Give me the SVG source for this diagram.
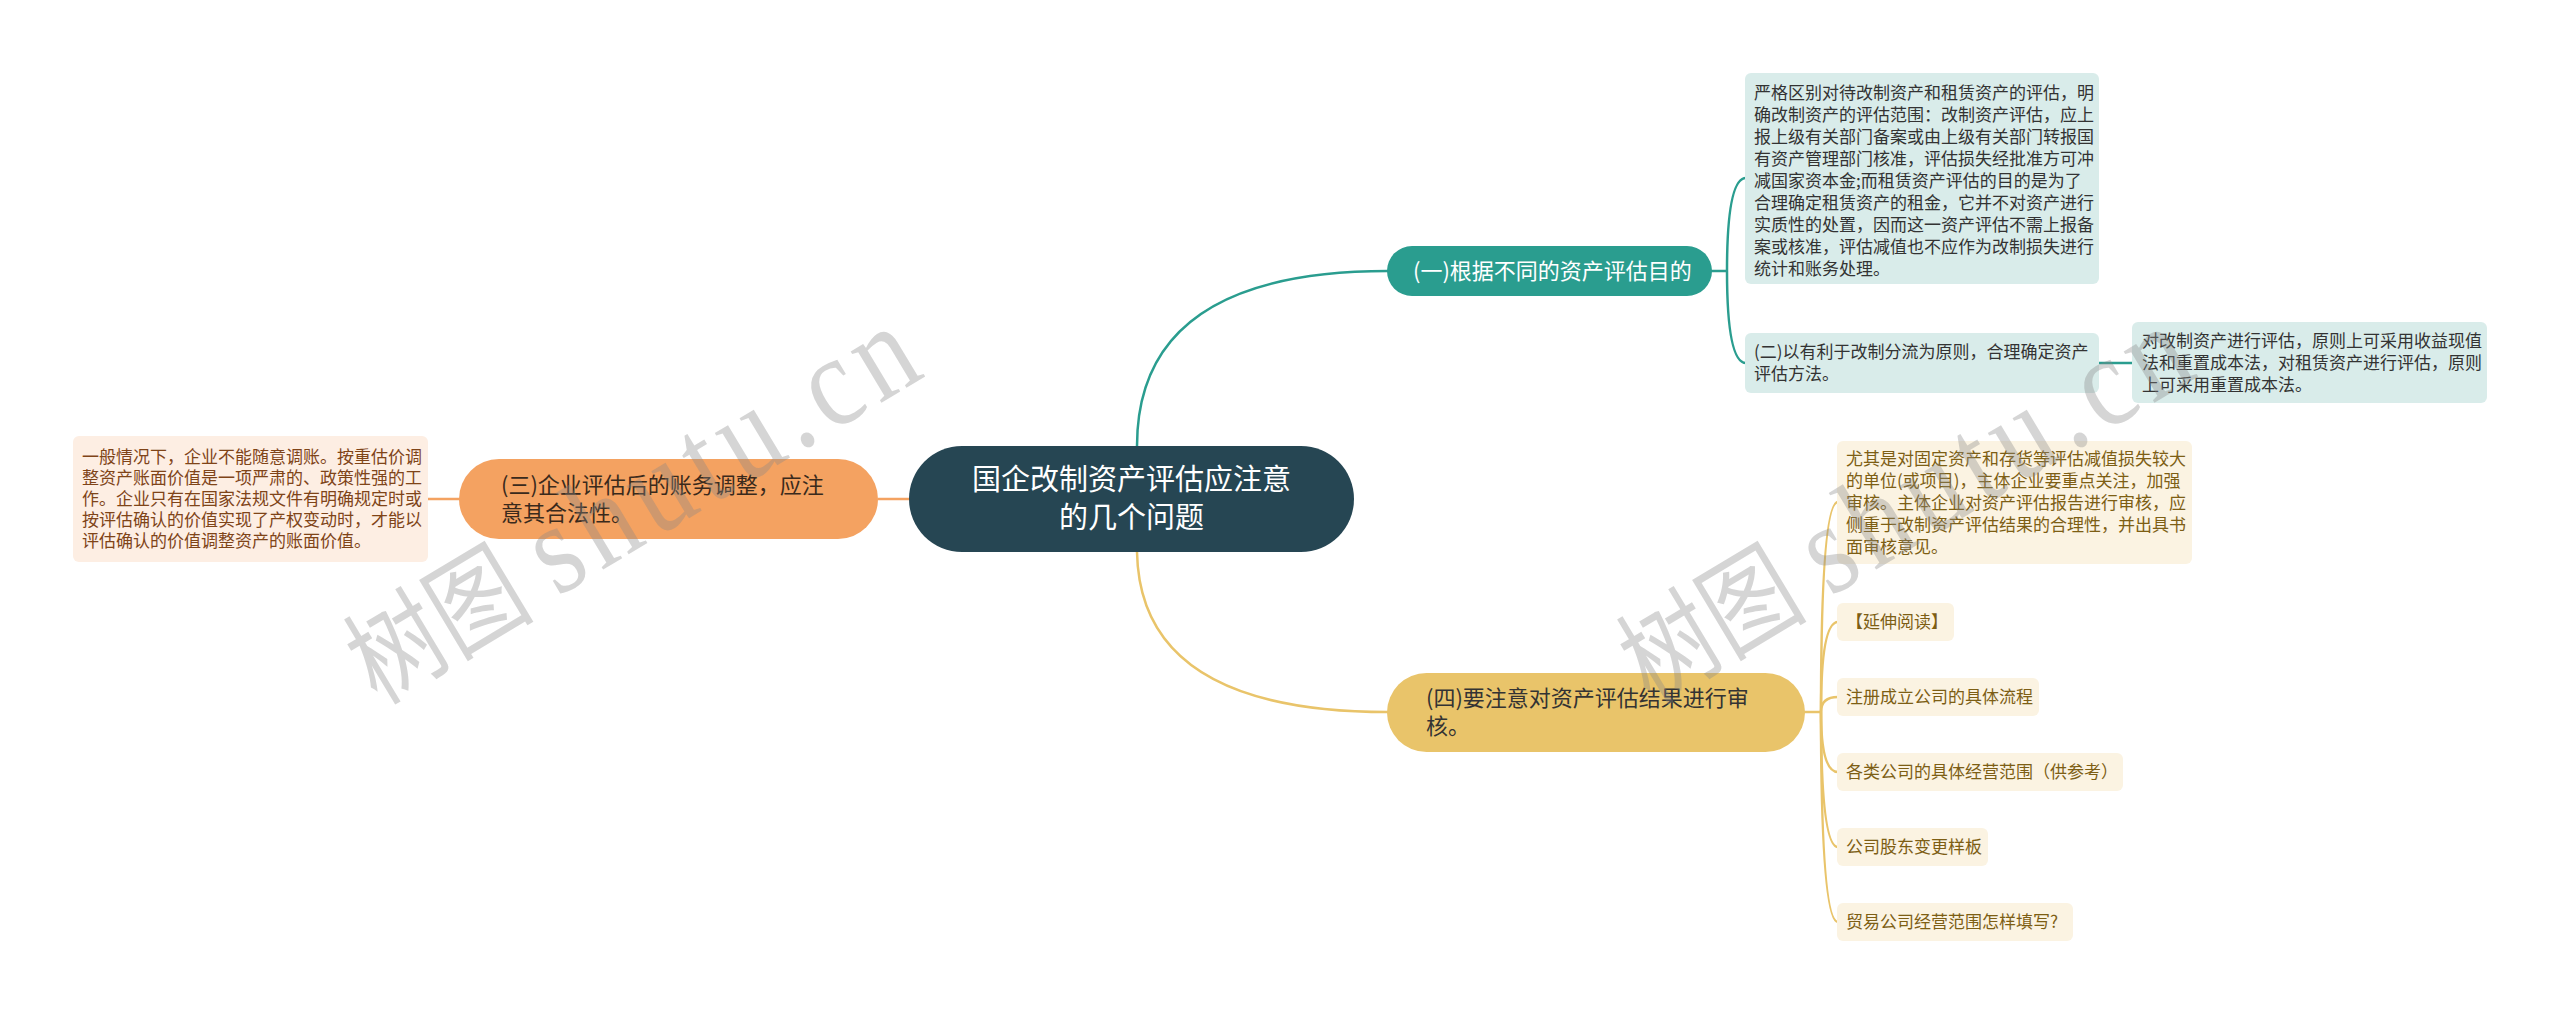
<svg xmlns="http://www.w3.org/2000/svg" width="2560" height="1014" viewBox="0 0 2560 1014">
<style>
  text { font-family: "Noto Sans CJK SC", "Noto Sans", sans-serif; }
  .root-t { font-size: 29px; fill: #ffffff; text-anchor: middle; }
  .main-t { font-size: 22px; }
  .sub-t { font-size: 17px; }
  .c-teal { fill: none; stroke: #2a9d8f; stroke-width: 2.5; }
  .c-orange { fill: none; stroke: #f4a261; stroke-width: 2.5; }
  .c-gold { fill: none; stroke: #e9c46a; stroke-width: 2.5; }
  .teal-box { fill: #d9ecea; }
  .teal-txt { fill: #333333; }
  .peach-box { fill: #fdeee3; }
  .peach-txt { fill: #7f4418; }
  .gold-box { fill: #fbf3e2; }
  .gold-txt { fill: #7d5e14; }
  .wm { font-family: "Liberation Serif", "Noto Sans CJK SC", serif; font-size: 108px; fill: #888888; fill-opacity: 0.35; }
  .wm-lat { font-size: 130px; }
</style>
<rect x="0" y="0" width="2560" height="1014" fill="#ffffff"/>

<g id="connectors">
  <path class="c-teal" d="M1137,446 Q1137,271 1388,271"/>
  <path class="c-gold" d="M1137,552 Q1140,712 1388,712"/>
  <path class="c-orange" d="M878,499 H910"/>
  <path class="c-orange" d="M427,499 H460"/>
  <path class="c-teal" d="M1711,271 H1727"/>
  <path class="c-teal" d="M1727,271 Q1727,178 1746,178"/>
  <path class="c-teal" d="M1727,271 Q1727,363 1746,363"/>
  <path class="c-teal" d="M2098,363 H2133"/>
  <path class="c-gold" d="M1804,712 H1821"/>
  <path class="c-gold" d="M1821,712 Q1821,502 1838,502"/>
  <path class="c-gold" d="M1821,712 Q1821,622 1838,622"/>
  <path class="c-gold" d="M1821,712 Q1821,697 1838,697"/>
  <path class="c-gold" d="M1821,712 Q1821,772 1838,772"/>
  <path class="c-gold" d="M1821,712 Q1821,847 1838,847"/>
  <path class="c-gold" d="M1821,712 Q1821,922 1838,922"/>
</g>

<g id="root">
  <rect x="909" y="446" width="445" height="106" rx="53" fill="#264653"/>
  <text class="root-t" x="1131.5" y="490">国企改制资产评估应注意</text>
  <text class="root-t" x="1131.5" y="528">的几个问题</text>
</g>

<g id="n1">
  <rect x="1387" y="246" width="325" height="50" rx="25" fill="#2a9d8f"/>
  <text class="main-t" x="1413" y="279" fill="#ffffff">(一)根据不同的资产评估目的</text>
</g>

<g id="n1-a">
  <rect class="teal-box" x="1745" y="73" width="354" height="211" rx="6"/>
  <text class="sub-t teal-txt" x="1754">
    <tspan x="1754" y="99">严格区别对待改制资产和租赁资产的评估，明</tspan>
    <tspan x="1754" y="121">确改制资产的评估范围：改制资产评估，应上</tspan>
    <tspan x="1754" y="143">报上级有关部门备案或由上级有关部门转报国</tspan>
    <tspan x="1754" y="165">有资产管理部门核准，评估损失经批准方可冲</tspan>
    <tspan x="1754" y="187">减国家资本金;而租赁资产评估的目的是为了</tspan>
    <tspan x="1754" y="209">合理确定租赁资产的租金，它并不对资产进行</tspan>
    <tspan x="1754" y="231">实质性的处置，因而这一资产评估不需上报备</tspan>
    <tspan x="1754" y="253">案或核准，评估减值也不应作为改制损失进行</tspan>
    <tspan x="1754" y="275">统计和账务处理。</tspan>
  </text>
</g>

<g id="n1-b">
  <rect class="teal-box" x="1745" y="333" width="354" height="60" rx="6"/>
  <text class="sub-t teal-txt">
    <tspan x="1754" y="358">(二)以有利于改制分流为原则，合理确定资产</tspan>
    <tspan x="1754" y="380">评估方法。</tspan>
  </text>
</g>

<g id="n1-b-1">
  <rect class="teal-box" x="2132" y="322" width="355" height="81" rx="6"/>
  <text class="sub-t teal-txt">
    <tspan x="2142" y="347">对改制资产进行评估，原则上可采用收益现值</tspan>
    <tspan x="2142" y="369">法和重置成本法，对租赁资产进行评估，原则</tspan>
    <tspan x="2142" y="391">上可采用重置成本法。</tspan>
  </text>
</g>

<g id="n3">
  <rect x="459" y="459" width="419" height="80" rx="40" fill="#f4a261"/>
  <text class="main-t" fill="#3a2a1c">
    <tspan x="501" y="493">(三)企业评估后的账务调整，应注</tspan>
    <tspan x="501" y="521">意其合法性。</tspan>
  </text>
</g>

<g id="n3-a">
  <rect class="peach-box" x="73" y="436" width="355" height="126" rx="6"/>
  <text class="sub-t peach-txt">
    <tspan x="82" y="463">一般情况下，企业不能随意调账。按重估价调</tspan>
    <tspan x="82" y="484">整资产账面价值是一项严肃的、政策性强的工</tspan>
    <tspan x="82" y="505">作。企业只有在国家法规文件有明确规定时或</tspan>
    <tspan x="82" y="526">按评估确认的价值实现了产权变动时，才能以</tspan>
    <tspan x="82" y="547">评估确认的价值调整资产的账面价值。</tspan>
  </text>
</g>

<g id="n4">
  <rect x="1387" y="673" width="418" height="79" rx="39.5" fill="#e9c46a"/>
  <text class="main-t" fill="#333333">
    <tspan x="1426" y="706">(四)要注意对资产评估结果进行审</tspan>
    <tspan x="1426" y="734">核。</tspan>
  </text>
</g>

<g id="n4-a">
  <rect class="gold-box" x="1837" y="441" width="355" height="123" rx="6"/>
  <text class="sub-t gold-txt">
    <tspan x="1846" y="465">尤其是对固定资产和存货等评估减值损失较大</tspan>
    <tspan x="1846" y="487">的单位(或项目)，主体企业要重点关注，加强</tspan>
    <tspan x="1846" y="509">审核。主体企业对资产评估报告进行审核，应</tspan>
    <tspan x="1846" y="531">侧重于改制资产评估结果的合理性，并出具书</tspan>
    <tspan x="1846" y="553">面审核意见。</tspan>
  </text>
</g>

<g id="n4-b">
  <rect class="gold-box" x="1837" y="603" width="117" height="38" rx="6"/>
  <text class="sub-t gold-txt" x="1846" y="628">【延伸阅读】</text>
</g>

<g id="n4-c">
  <rect class="gold-box" x="1837" y="678" width="202" height="38" rx="6"/>
  <text class="sub-t gold-txt" x="1846" y="703">注册成立公司的具体流程</text>
</g>

<g id="n4-d">
  <rect class="gold-box" x="1837" y="753" width="286" height="38" rx="6"/>
  <text class="sub-t gold-txt" x="1846" y="778">各类公司的具体经营范围（供参考）</text>
</g>

<g id="n4-e">
  <rect class="gold-box" x="1837" y="828" width="151" height="38" rx="6"/>
  <text class="sub-t gold-txt" x="1846" y="853">公司股东变更样板</text>
</g>

<g id="n4-f">
  <rect class="gold-box" x="1837" y="903" width="236" height="38" rx="6"/>
  <text class="sub-t gold-txt" x="1846" y="928">贸易公司经营范围怎样填写?</text>
</g>

<g id="watermarks">
  <text class="wm" transform="translate(378,705) rotate(-31) scale(0.85,1)">树图<tspan class="wm-lat" dx="30" letter-spacing="10">shutu.cn</tspan></text>
  <text class="wm" transform="translate(1651,705) rotate(-31) scale(0.85,1)">树图<tspan class="wm-lat" dx="30" letter-spacing="10">shutu.cn</tspan></text>
</g>
</svg>
